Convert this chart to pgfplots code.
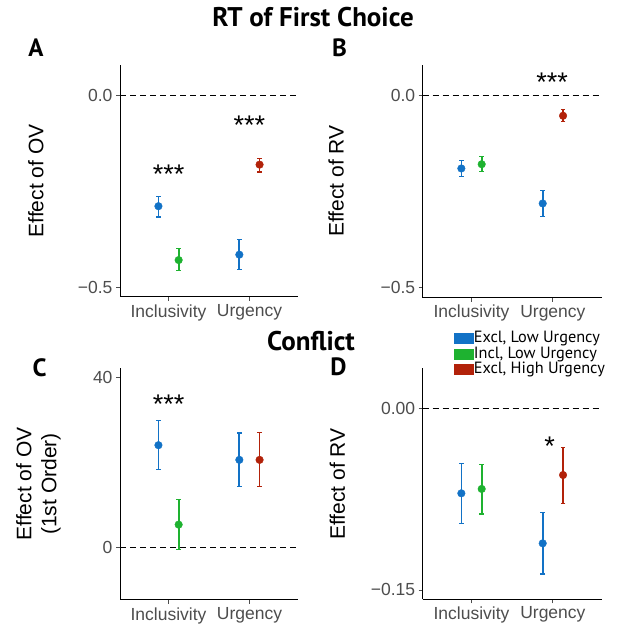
\documentclass[border=0pt]{standalone}
\usepackage{fontspec}
\setmainfont{Liberation Sans}
\newfontfamily\headfont{PT Sans}
\usepackage{pgfplots}
\pgfplotsset{compat=1.18}

\definecolor{cblue}{RGB}{18,114,198}
\definecolor{cgreen}{RGB}{30,178,48}
\definecolor{cred}{RGB}{178,34,10}
\definecolor{tickgray}{RGB}{77,77,77}

\pgfplotsset{
  panel/.style={
    scale only axis, anchor=south west, clip=false,
    axis x line*=bottom, axis y line*=left,
    axis line style={-, line width=1pt},
    xmin=0.4, xmax=2.6, xtick={1,2},
    xticklabels={Inclusivity,Urgency},
    tick align=outside, major tick length=4pt,
    every tick/.style={tickgray, line width=0.8pt},
    tick label style={font=\fontsize{17.5}{21}\selectfont, text=tickgray},
    /pgf/number format/assume math mode=true,
    legend style={draw=none, fill=none},
  },
  pt/.style={only marks, mark=*, mark size=3.8pt, color=#1,
    error bars/.cd, y dir=both, y explicit, error mark=|,
    error bar style={line width=1.7pt, color=#1},
    error mark options={line width=1.1pt, mark size=2.3pt, color=#1}},
  zero/.style={black, dash pattern=on 6pt off 4pt, line width=0.9pt, forget plot},
}
\newcommand{\stars}{\fontsize{27}{27}\selectfont}

\begin{document}
\begin{tikzpicture}
\path[use as bounding box] (0,0) rectangle (621pt,629pt);

% A
\begin{axis}[panel, at={(120pt,332pt)}, width=178pt, height=232pt,
  ymin=-0.525, ymax=0.078, ytick={-0.5,0}, yticklabels={−0.5,0.0}]
\addplot[zero] coordinates {(0.4,0) (2.6,0)};
\addplot[pt=cblue] coordinates {(0.875,-0.289) += (0,0.026) -= (0,0.028)
  (1.875,-0.415) += (0,0.039) -= (0,0.038)};
\addplot[pt=cgreen] coordinates {(1.125,-0.429) += (0,0.029) -= (0,0.028)};
\addplot[pt=cred] coordinates {(2.125,-0.181) += (0,0.017) -= (0,0.019)};
\node[font=\stars, anchor=base, yshift=-15.5pt] at (axis cs:1,-0.1906) {***};
\node[font=\stars, anchor=base, yshift=-15.5pt] at (axis cs:2,-0.0624) {***};
\end{axis}

% B
\begin{axis}[panel, at={(422.7pt,331.3pt)}, width=179pt, height=232.7pt,
  ymin=-0.527, ymax=0.078, ytick={-0.5,0}, yticklabels={−0.5,0.0}]
\addplot[zero] coordinates {(0.4,0) (2.6,0)};
\addplot[pt=cblue] coordinates {(0.875,-0.191) += (0,0.020) -= (0,0.021)
  (1.875,-0.282) += (0,0.034) -= (0,0.034)};
\addplot[pt=cgreen] coordinates {(1.125,-0.180) += (0,0.019) -= (0,0.020)};
\addplot[pt=cred] coordinates {(2.125,-0.054) += (0,0.017) -= (0,0.016)};
\node[font=\stars, anchor=base, yshift=-15.5pt] at (axis cs:1.99,0.0494) {***};
\end{axis}

% C
\begin{axis}[panel, at={(120pt,29pt)}, width=178pt, height=231.7pt,
  ymin=-12.3, ymax=42.1, ytick={0,40}, yticklabels={0,40}]
\addplot[zero] coordinates {(0.4,0) (2.6,0)};
\addplot[pt=cblue] coordinates {(0.875,24.05) += (0,5.75) -= (0,5.65)
  (1.875,20.6) += (0,6.3) -= (0,6.3)};
\addplot[pt=cgreen] coordinates {(1.125,5.4) += (0,5.8) -= (0,5.9)};
\addplot[pt=cred] coordinates {(2.125,20.6) += (0,6.4) -= (0,6.3)};
\node[font=\stars, anchor=base, yshift=-15.5pt] at (axis cs:1,35.1) {***};
\end{axis}

% D
\begin{axis}[panel, at={(422.7pt,29.7pt)}, width=179pt, height=231pt,
  ymin=-0.1577, ymax=0.033, ytick={-0.15,0}, yticklabels={−0.15,0.00},
  legend style={at={(0.175,1.163)}, anchor=north west,
    font=\headfont\fontsize{16.3}{16.3}\selectfont, row sep=0pt,
    inner sep=0pt, cells={anchor=west},
    nodes={inner sep=0.25pt, text height=11.5pt, text depth=3.5pt}},
  legend image code/.code={\fill (0pt,-5pt) rectangle (19pt,5pt);}]
\addplot[zero] coordinates {(0.4,0) (2.6,0)};
\addplot[pt=cblue] coordinates {(0.875,-0.0702) += (0,0.0248) -= (0,0.0248)
  (1.875,-0.1115) += (0,0.0253) -= (0,0.0253)};
\addlegendentry{Excl, Low Urgency}
\addplot[pt=cgreen] coordinates {(1.125,-0.0666) += (0,0.0204) -= (0,0.0207)};
\addlegendentry{Incl, Low Urgency}
\addplot[pt=cred] coordinates {(2.125,-0.0551) += (0,0.0229) -= (0,0.0233)};
\addlegendentry{Excl, High Urgency}
\node[font=\stars, anchor=base, yshift=-15.5pt] at (axis cs:1.96,-0.0262) {*};
\end{axis}

% titles, panel letters, axis titles
\node[font=\headfont\bfseries\fontsize{27}{27}\selectfont] at (313pt,612pt) {RT of First Choice};
\node[font=\headfont\bfseries\fontsize{27}{27}\selectfont] at (311pt,287.5pt) {Conflict};
\node[font=\headfont\bfseries\fontsize{25}{25}\selectfont] at (36pt,581pt) {A};
\node[font=\headfont\bfseries\fontsize{25}{25}\selectfont] at (339.5pt,581pt) {B};
\node[font=\headfont\bfseries\fontsize{25}{25}\selectfont] at (39.5pt,261.5pt) {C};
\node[font=\headfont\bfseries\fontsize{25}{25}\selectfont] at (338.5pt,262pt) {D};
\node[rotate=90, font=\fontsize{21}{25}\selectfont] at (36pt,448pt) {Effect of OV};
\node[rotate=90, font=\fontsize{21}{25}\selectfont] at (336pt,448pt) {Effect of RV};
\node[rotate=90, align=center, font=\fontsize{21}{25}\selectfont] at (38.5pt,145pt) {Effect of OV\\(1st Order)};
\node[rotate=90, font=\fontsize{21}{25}\selectfont] at (337.5pt,145pt) {Effect of RV};
\end{tikzpicture}
\end{document}
